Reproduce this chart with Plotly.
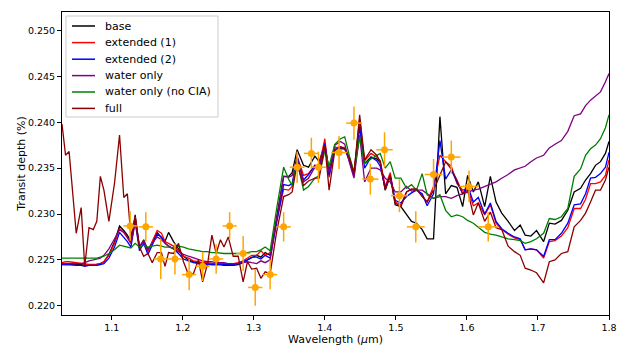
import plotly.graph_objects as go

wavelength = [1.030, 1.035, 1.040, 1.050, 1.057, 1.062, 1.068, 1.074, 1.079, 1.084, 1.089, 1.096, 1.104,
              1.111, 1.117, 1.122, 1.127, 1.133, 1.139, 1.145, 1.151, 1.157, 1.164, 1.170, 1.175, 1.180, 1.187, 1.194, 1.201,
              1.208, 1.215, 1.222, 1.228, 1.235, 1.241, 1.247, 1.253, 1.258, 1.264, 1.271, 1.278, 1.285, 1.291, 1.297, 1.304, 1.310, 1.316, 1.323, 1.332,
              1.342, 1.349, 1.354, 1.361, 1.370, 1.377, 1.386, 1.392, 1.400, 1.406, 1.414, 1.422, 1.428, 1.435, 1.441, 1.449, 1.456, 1.465, 1.473, 1.478, 1.485,
              1.492, 1.499, 1.507, 1.515, 1.522, 1.529, 1.537, 1.544, 1.553, 1.562, 1.570, 1.578, 1.586, 1.594, 1.601, 1.609, 1.616, 1.625, 1.633,
              1.641, 1.649, 1.658, 1.667, 1.675, 1.682, 1.690, 1.698, 1.708, 1.716, 1.724, 1.733, 1.742, 1.751, 1.760, 1.767, 1.774, 1.781, 1.788, 1.795, 1.800]

base = [0.2245, 0.2245, 0.2245, 0.2245, 0.2245, 0.2244, 0.2244, 0.2244, 0.2245, 0.2246, 0.2248, 0.2256, 0.2270,
        0.2287, 0.2282, 0.2277, 0.2270, 0.2299, 0.2264, 0.2272, 0.2260, 0.2270, 0.2280, 0.2274, 0.2270, 0.2280, 0.2270, 0.2262, 0.2254,
        0.2250, 0.2248, 0.2247, 0.2246, 0.2246, 0.2245, 0.2245, 0.2245, 0.2244, 0.2244, 0.2244, 0.2245, 0.2247, 0.2250, 0.2252, 0.2255, 0.2253, 0.2258, 0.2255, 0.2297,
        0.2341, 0.2341, 0.2345, 0.2370, 0.2353, 0.2351, 0.2363, 0.2357, 0.2376, 0.2347, 0.2373, 0.2371, 0.2371, 0.2360, 0.2344, 0.2403, 0.2355, 0.2362, 0.2360, 0.2356, 0.2326,
        0.2342, 0.2310, 0.2308, 0.2299, 0.2292, 0.2290, 0.2283, 0.2273, 0.2273, 0.2406, 0.2322, 0.2331, 0.2329, 0.2308, 0.2342, 0.2324, 0.2335, 0.2308, 0.2341,
        0.2313, 0.2301, 0.2292, 0.2282, 0.2288, 0.2277, 0.2276, 0.2282, 0.2270, 0.2290, 0.2289, 0.2293, 0.2304, 0.2324, 0.2328, 0.2337, 0.2344, 0.2353, 0.2357, 0.2366, 0.2379]

extended_1 = [0.2247, 0.2248, 0.2248, 0.2247, 0.2246, 0.2245, 0.2245, 0.2245, 0.2245, 0.2246, 0.2248, 0.2255, 0.2268,
              0.2284, 0.2280, 0.2274, 0.2268, 0.2297, 0.2263, 0.2271, 0.2259, 0.2270, 0.2282, 0.2279, 0.2270, 0.2268, 0.2265, 0.2260, 0.2254,
              0.2252, 0.2249, 0.2248, 0.2247, 0.2247, 0.2246, 0.2246, 0.2246, 0.2246, 0.2246, 0.2246, 0.2247, 0.2249, 0.2252, 0.2255, 0.2255, 0.2260, 0.2255, 0.2258, 0.2292,
              0.2327, 0.2326, 0.2330, 0.2363, 0.2342, 0.2344, 0.2353, 0.2352, 0.2382, 0.2340, 0.2372, 0.2373, 0.2372, 0.2358, 0.2342, 0.2398, 0.2358, 0.2366, 0.2362, 0.2358, 0.2330,
              0.2345, 0.2313, 0.2310, 0.2324, 0.2327, 0.2327, 0.2320, 0.2313, 0.2330, 0.2364, 0.2357, 0.2352, 0.2333, 0.2326, 0.2328, 0.2309, 0.2312, 0.2299, 0.2310,
              0.2290, 0.2283, 0.2278, 0.2274, 0.2272, 0.2261, 0.2262, 0.2261, 0.2252, 0.2270, 0.2271, 0.2276, 0.2285, 0.2306, 0.2306, 0.2316, 0.2333, 0.2333, 0.2335, 0.2342, 0.2359]

extended_2 = [0.2245, 0.2245, 0.2245, 0.2244, 0.2244, 0.2243, 0.2244, 0.2244, 0.2244, 0.2245, 0.2246, 0.2252, 0.2264,
              0.2280, 0.2275, 0.2270, 0.2264, 0.2292, 0.2260, 0.2268, 0.2256, 0.2266, 0.2278, 0.2275, 0.2268, 0.2265, 0.2262, 0.2257, 0.2251,
              0.2249, 0.2247, 0.2246, 0.2246, 0.2245, 0.2245, 0.2245, 0.2245, 0.2245, 0.2245, 0.2245, 0.2246, 0.2248, 0.2250, 0.2253, 0.2253, 0.2251, 0.2255, 0.2252, 0.2292,
              0.2332, 0.2331, 0.2333, 0.2362, 0.2337, 0.2343, 0.2353, 0.2350, 0.2377, 0.2342, 0.2370, 0.2373, 0.2371, 0.2357, 0.2341, 0.2395, 0.2350, 0.2362, 0.2358, 0.2352, 0.2328,
              0.2342, 0.2315, 0.2312, 0.2319, 0.2323, 0.2326, 0.2322, 0.2309, 0.2322, 0.2380, 0.2338, 0.2348, 0.2335, 0.2322, 0.2331, 0.2313, 0.2318, 0.2300, 0.2312,
              0.2292, 0.2284, 0.2279, 0.2275, 0.2273, 0.2261, 0.2262, 0.2261, 0.2254, 0.2272, 0.2272, 0.2279, 0.2290, 0.2310, 0.2311, 0.2322, 0.2339, 0.2340, 0.2344, 0.2351, 0.2367]

water_only = [0.2246, 0.2246, 0.2246, 0.2246, 0.2246, 0.2247, 0.2249, 0.2250, 0.2251, 0.2252, 0.2255, 0.2262, 0.2273,
              0.2283, 0.2280, 0.2275, 0.2268, 0.2291, 0.2265, 0.2270, 0.2262, 0.2268, 0.2275, 0.2272, 0.2268, 0.2265, 0.2262, 0.2259, 0.2256,
              0.2254, 0.2252, 0.2250, 0.2249, 0.2248, 0.2248, 0.2247, 0.2247, 0.2247, 0.2246, 0.2246, 0.2246, 0.2247, 0.2248, 0.2247, 0.2246, 0.2249, 0.2247, 0.2250, 0.2294,
              0.2341, 0.2340, 0.2342, 0.2362, 0.2335, 0.2339, 0.2351, 0.2349, 0.2375, 0.2345, 0.2375, 0.2379, 0.2376, 0.2355, 0.2339, 0.2386, 0.2335, 0.2350, 0.2350, 0.2348, 0.2339,
              0.2335, 0.2324, 0.2324, 0.2330, 0.2325, 0.2326, 0.2326, 0.2322, 0.2317, 0.2319, 0.2319, 0.2317, 0.2320, 0.2322, 0.2324, 0.2326, 0.2327, 0.2330, 0.2333,
              0.2335, 0.2339, 0.2343, 0.2348, 0.2350, 0.2352, 0.2357, 0.2361, 0.2364, 0.2372, 0.2376, 0.2380, 0.2390, 0.2407, 0.2409, 0.2418, 0.2424, 0.2428, 0.2433, 0.2444, 0.2453]

water_only_no_cia = [0.2252, 0.2252, 0.2252, 0.2252, 0.2252, 0.2252, 0.2252, 0.2252, 0.2252, 0.2253, 0.2254, 0.2257, 0.2261,
                     0.2266, 0.2265, 0.2264, 0.2263, 0.2268, 0.2264, 0.2266, 0.2264, 0.2265, 0.2266, 0.2265, 0.2264, 0.2264, 0.2263, 0.2265, 0.2264,
                     0.2262, 0.2261, 0.2260, 0.2259, 0.2259, 0.2258, 0.2258, 0.2257, 0.2257, 0.2257, 0.2257, 0.2257, 0.2257, 0.2258, 0.2259, 0.2259, 0.2261, 0.2264, 0.2260, 0.2305,
                     0.2351, 0.2338, 0.2331, 0.2358, 0.2326, 0.2330, 0.2339, 0.2342, 0.2369, 0.2352, 0.2376, 0.2382, 0.2384, 0.2362, 0.2346, 0.2384, 0.2355, 0.2360, 0.2364, 0.2366, 0.2350,
                     0.2357, 0.2339, 0.2339, 0.2328, 0.2332, 0.2326, 0.2344, 0.2321, 0.2317, 0.2321, 0.2304, 0.2297, 0.2299, 0.2297, 0.2293, 0.2290, 0.2286, 0.2280, 0.2278,
                     0.2277, 0.2275, 0.2273, 0.2272, 0.2271, 0.2268, 0.2270, 0.2273, 0.2279, 0.2295, 0.2294, 0.2297, 0.2306, 0.2341, 0.2349, 0.2364, 0.2371, 0.2375, 0.2382, 0.2394, 0.2408]

full = [0.2398, 0.2364, 0.2368, 0.2279, 0.2307, 0.2243, 0.2285, 0.2283, 0.2292, 0.2341, 0.2326, 0.2292, 0.2334,
        0.2386, 0.2318, 0.2322, 0.2275, 0.2296, 0.2264, 0.2254, 0.2257, 0.2247, 0.2258, 0.2258, 0.2243, 0.2258, 0.2257, 0.2268, 0.2248,
        0.2234, 0.2235, 0.2250, 0.2226, 0.2246, 0.2277, 0.2257, 0.2272, 0.2264, 0.2275, 0.2254, 0.2254, 0.2226, 0.2248, 0.2240, 0.2241, 0.2230, 0.2237, 0.2235, 0.2280,
        0.2319, 0.2321, 0.2324, 0.2355, 0.2331, 0.2336, 0.2339, 0.2339, 0.2375, 0.2326, 0.2369, 0.2373, 0.2371, 0.2360, 0.2344, 0.2408, 0.2359, 0.2370, 0.2364, 0.2357, 0.2326,
        0.2342, 0.2312, 0.2308, 0.2324, 0.2327, 0.2327, 0.2319, 0.2313, 0.2326, 0.2342, 0.2357, 0.2349, 0.2337, 0.2322, 0.2326, 0.2299, 0.2312, 0.2292, 0.2302,
        0.2285, 0.2283, 0.2265, 0.2259, 0.2255, 0.2241, 0.2239, 0.2236, 0.2225, 0.2248, 0.2250, 0.2257, 0.2259, 0.2286, 0.2293, 0.2301, 0.2313, 0.2326, 0.2326, 0.2337, 0.2351]

# observed data with error bars
obs_wl = [1.126, 1.148, 1.169, 1.189, 1.209, 1.228, 1.247, 1.266, 1.285, 1.302, 1.323, 1.342, 1.361,
          1.381, 1.391, 1.420, 1.441, 1.464, 1.484, 1.505, 1.528, 1.553, 1.578, 1.603, 1.630]
obs_td = [0.2287, 0.2286, 0.2251, 0.2251, 0.2234, 0.2243, 0.2251, 0.2287, 0.2257, 0.2220, 0.2234, 0.2286, 0.2351,
          0.2366, 0.2351, 0.2367, 0.2399, 0.2338, 0.2370, 0.2320, 0.2286, 0.2343, 0.2362, 0.2330, 0.2286]
obs_wl_err = [0.0095, 0.0100, 0.0100, 0.0100, 0.0100, 0.0100, 0.0100, 0.0100, 0.0100, 0.0100, 0.0100, 0.0100, 0.0105,
              0.0105, 0.0105, 0.0110, 0.0110, 0.0115, 0.0115, 0.0120, 0.0125, 0.0125, 0.0130, 0.0135, 0.0140]
obs_td_err = [0.0016, 0.0016, 0.0022, 0.0017, 0.0017, 0.0016, 0.0016, 0.0015, 0.0019, 0.0020, 0.0016, 0.0016, 0.0017,
              0.0017, 0.0017, 0.0018, 0.0018, 0.0017, 0.0019, 0.0018, 0.0017, 0.0017, 0.0018, 0.0017, 0.0016]

series = [
    ("base", base, "black"),
    ("extended (1)", extended_1, "red"),
    ("extended (2)", extended_2, "blue"),
    ("water only", water_only, "purple"),
    ("water only (no CIA)", water_only_no_cia, "green"),
    ("full", full, "darkred"),
]

# the page body adds an 8px offset; size the figure so the plot lands where the reference has it
OFF = 8
W, H = 625 - OFF, 358 - OFF
ML, MR, MT, MB = 62 - OFF, 16, 12 - OFF, 43
PW, PH = W - ML - MR, H - MT - MB


def px2paper_x(px):
    return (px - OFF - ML) / PW


def px2paper_y(py):
    return (H - MB - (py - OFF)) / PH


fig = go.Figure()
for name, vals, col in series:
    fig.add_trace(go.Scatter(x=wavelength, y=vals, mode="lines", name=name,
                             line=dict(color=col, width=1.3), showlegend=False))

fig.add_trace(go.Scatter(
    x=obs_wl, y=obs_td, mode="markers", showlegend=False,
    marker=dict(color="orange", size=7),
    error_x=dict(type="data", array=obs_wl_err, color="orange", thickness=1.5, width=0),
    error_y=dict(type="data", array=obs_td_err, color="orange", thickness=1.5, width=0),
))

# legend drawn as a box with line samples and labels (matplotlib-style)
shapes = [dict(type="rect", xref="paper", yref="paper",
               x0=px2paper_x(66), x1=px2paper_x(218), y0=px2paper_y(117), y1=px2paper_y(16),
               line=dict(color="#cccccc", width=1), fillcolor="rgba(255,255,255,0.85)", layer="above")]
annotations = []
row_y = [26, 42.6, 59.2, 75.6, 92, 108.4]
for (name, vals, col), ry in zip(series, row_y):
    shapes.append(dict(type="line", xref="paper", yref="paper",
                       x0=px2paper_x(72), x1=px2paper_x(95), y0=px2paper_y(ry), y1=px2paper_y(ry),
                       line=dict(color=col, width=1.5), layer="above"))
    annotations.append(dict(text=name, xref="paper", yref="paper", x=px2paper_x(103), y=px2paper_y(ry),
                            xanchor="left", yanchor="middle", showarrow=False,
                            font=dict(family="DejaVu Sans", size=11, color="black")))

axis_common = dict(showline=True, linecolor="black", linewidth=1, mirror=True, automargin=False,
                   ticks="outside", ticklen=4, tickcolor="black", showgrid=False, zeroline=False,
                   tickfont=dict(family="DejaVu Sans", size=9.5, color="black"))

fig.update_layout(
    width=W, height=H,
    margin=dict(l=ML, r=MR, t=MT, b=MB, autoexpand=False),
    plot_bgcolor="white", paper_bgcolor="white",
    font=dict(family="DejaVu Sans", size=11, color="black"),
    xaxis=dict(range=[1.03, 1.8], tickvals=[1.1, 1.2, 1.3, 1.4, 1.5, 1.6, 1.7, 1.8],
               ticktext=["1.1", "1.2", "1.3", "1.4", "1.5", "1.6", "1.7", "1.8"],
               title=dict(text="Wavelength (<i>μ</i>m)", font=dict(size=11), standoff=0), **axis_common),
    yaxis=dict(range=[0.219, 0.252], tickvals=[0.220, 0.225, 0.230, 0.235, 0.240, 0.245, 0.250],
               ticktext=["0.220", "0.225", "0.230", "0.235", "0.240", "0.245", "0.250"],
               title=dict(text="Transit depth (%)", font=dict(size=11), standoff=0), **axis_common),
    shapes=shapes, annotations=annotations,
    showlegend=False,
)

fig.write_html("out.html")
